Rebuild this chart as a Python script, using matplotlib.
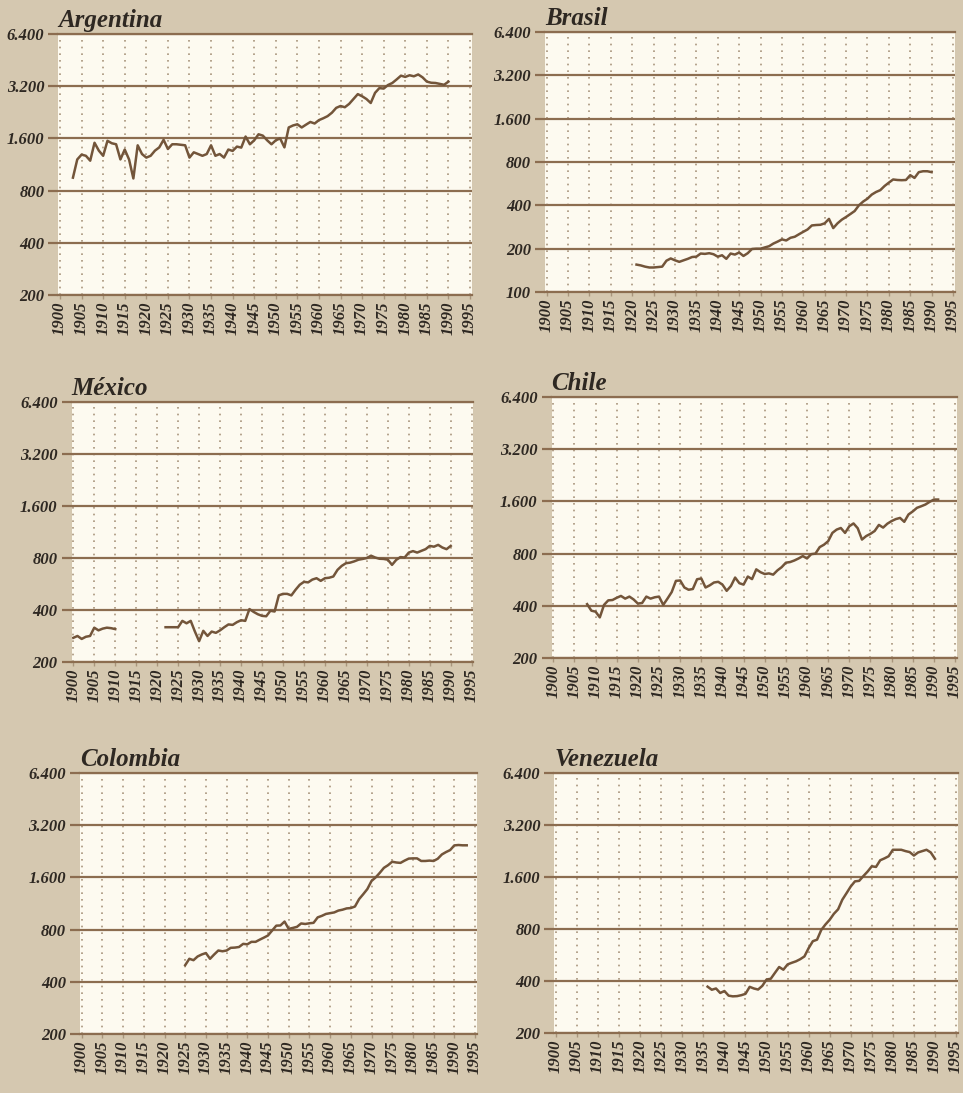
import numpy as np
import matplotlib.pyplot as plt
from matplotlib.ticker import FixedLocator, NullLocator

# ---- data (values per year) ----
arg_years = list(range(1903, 1991))
arg_values = [950, 1210, 1290, 1270, 1190, 1510, 1360, 1270, 1550, 1500,
              1480, 1210, 1380, 1210, 940, 1460, 1300, 1240, 1270, 1360,
              1420, 1570, 1390, 1480, 1480, 1470, 1460, 1240, 1330, 1300,
              1270, 1300, 1460, 1270, 1300, 1240, 1380, 1355, 1435, 1416,
              1640, 1480, 1560, 1690, 1660, 1560, 1480, 1560, 1600, 1420,
              1850, 1900, 1930, 1850, 1920, 1990, 1950, 2040, 2090, 2150,
              2250, 2400, 2460, 2420, 2530, 2700, 2880, 2800, 2700, 2560,
              2930, 3120, 3100, 3250, 3340, 3500, 3680, 3620, 3700, 3650,
              3740, 3600, 3400, 3350, 3340, 3300, 3260, 3400]

bra_years = list(range(1921, 1991))
bra_values = [155, 153, 150, 148, 148, 149, 150, 165, 171, 166,
              162, 166, 170, 175, 176, 185, 184, 186, 183, 176,
              180, 170, 185, 182, 188, 178, 186, 199, 200, 200,
              204, 208, 217, 224, 232, 228, 238, 242, 252, 262,
              272, 290, 292, 293, 300, 322, 278, 300, 318, 332,
              348, 365, 400, 425, 445, 475, 495, 510, 545, 575,
              605, 600, 598, 600, 648, 620, 680, 690, 690, 680]

mex_years = list(range(1900, 1991))
mex_values = [276, 283, 272, 280, 283, 316, 305, 312, 316, 314,
              310, None, None, None, None, None, None, None, None, None,
              None, None, 318, 318, 318, 318, 346, 335, 346, 300,
              264, 303, 283, 300, 295, 305, 318, 330, 328, 340,
              349, 346, 405, 390, 378, 370, 368, 396, 392, 486,
              496, 496, 486, 524, 560, 582, 578, 600, 611, 590,
              611, 615, 625, 683, 720, 746, 752, 765, 782, 790,
              800, 825, 805, 792, 790, 782, 730, 780, 810, 805,
              860, 877, 860, 880, 900, 940, 930, 953, 920, 900,
              940]

chi_years = list(range(1908, 1992))
chi_values = [409, 375, 370, 343, 405, 430, 432, 445, 456, 440,
              452, 435, 412, 415, 452, 440, 448, 452, 405, 440,
              480, 557, 560, 510, 495, 500, 569, 575, 510, 525,
              545, 550, 530, 488, 520, 582, 540, 530, 590, 570,
              649, 625, 610, 615, 605, 640, 668, 709, 715, 730,
              750, 774, 750, 794, 800, 872, 900, 943, 1053, 1100,
              1124, 1053, 1150, 1194, 1120, 964, 1010, 1040, 1080, 1171,
              1130, 1190, 1232, 1265, 1285, 1220, 1345, 1400, 1469, 1500,
              1535, 1590, 1640, 1640]

col_years = list(range(1925, 1994))
col_values = [499, 543, 533, 560, 575, 586, 543, 575, 606, 600,
              606, 628, 630, 635, 662, 658, 680, 680, 700, 719,
              740, 790, 843, 845, 890, 808, 818, 830, 868, 862,
              870, 875, 941, 960, 985, 995, 1005, 1030, 1042, 1060,
              1065, 1087, 1199, 1280, 1371, 1525, 1600, 1700, 1817, 1882,
              1970, 1950, 1940, 2000, 2054, 2060, 2060, 1990, 1990, 2000,
              1990, 2050, 2170, 2240, 2300, 2447, 2460, 2450, 2450]

ven_years = list(range(1936, 1991))
ven_values = [371, 356, 362, 341, 350, 329, 326, 327, 331, 337,
              370, 362, 357, 375, 408, 412, 446, 482, 465, 499,
              510, 520, 535, 555, 620, 680, 694, 790, 850, 905,
              980, 1040, 1182, 1290, 1410, 1510, 1520, 1620, 1720, 1845,
              1830, 2000, 2050, 2110, 2300, 2300, 2300, 2260, 2230, 2130,
              2220, 2260, 2300, 2220, 2040]

y_levels = [100, 200, 400, 800, 1600, 3200, 6400]
y_labels = ['100', '200', '400', '800', '1.600', '3.200', '6.400']
x_years = list(range(1900, 2000, 5))

# ---- style ----
W, H = 963, 1093
BG = '#d5c8b0'
CREAM = '#fdfaf0'
GRID = '#8c6d50'
DOTS = '#a8957c'
LINE = '#73553a'
TEXT = '#2e2822'
FONT = 'Liberation Serif'

fig = plt.figure(figsize=(W / 100, H / 100), dpi=100)
fig.patch.set_facecolor(BG)


def add_panel(name, years, values, ymin, box):
    # box = pixel x of 1900, pixel x of 1995, pixel y of top line, pixel y of bottom line
    x1900, x1995, ytop, ybot = box
    ppy = (x1995 - x1900) / 95
    left = x1900 - 0.4 * ppy
    right = x1995 + 0.4 * ppy
    ax = fig.add_axes([left / W, 1 - ybot / H, (right - left) / W, (ybot - ytop) / H])
    ax.set_facecolor(CREAM)

    vals = np.array([np.nan if v is None else v for v in values], dtype=float)
    ax.plot(years, vals, color=LINE, linewidth=1.8, zorder=3)

    ax.set_xlim(1899.6, 1995.4)
    ax.set_yscale('log', base=2)
    ax.set_ylim(ymin, 6400)

    levels = [v for v in y_levels if v >= ymin]
    labels = [l for v, l in zip(y_levels, y_labels) if v >= ymin]
    ax.yaxis.set_major_locator(FixedLocator(levels))
    ax.yaxis.set_minor_locator(NullLocator())
    ax.set_yticklabels(labels)
    ax.xaxis.set_major_locator(FixedLocator(x_years))
    ax.xaxis.set_minor_locator(NullLocator())
    ax.set_xticklabels([str(y) for y in x_years], rotation=90)

    ax.grid(axis='y', color=GRID, linewidth=1.6, linestyle='-', zorder=1)
    ax.grid(axis='x', color=DOTS, linewidth=1.2, linestyle=(0, (1, 3)), zorder=1)
    ax.set_axisbelow(True)

    for side in ['left', 'right']:
        ax.spines[side].set_visible(False)
    for side in ['top', 'bottom']:
        ax.spines[side].set_color(GRID)
        ax.spines[side].set_linewidth(1.6)

    ax.tick_params(axis='y', length=7, width=1.6, color=GRID, pad=3,
                   labelsize=12, labelcolor=TEXT)
    ax.tick_params(axis='x', length=3, width=1.0, color=DOTS, pad=2,
                   labelsize=12, labelcolor=TEXT)
    for lab in ax.get_xticklabels() + ax.get_yticklabels():
        lab.set_fontfamily(FONT)
        lab.set_fontstyle('italic')
        lab.set_fontweight('bold')

    ax.set_title(name, loc='left', pad=5, fontsize=18, fontfamily=FONT,
                 fontstyle='italic', fontweight='bold', color=TEXT)
    return ax


add_panel('Argentina', arg_years, arg_values, 200, (60, 470, 34, 295))
add_panel('Brasil', bra_years, bra_values, 100, (546.7, 953, 32, 292))
add_panel('México', mex_years, mex_values, 200, (73.3, 471.7, 402, 662))
add_panel('Chile', chi_years, chi_values, 200, (553.3, 955, 397, 658))
add_panel('Colombia', col_years, col_values, 200, (81.7, 475, 773, 1034))
add_panel('Venezuela', ven_years, ven_values, 200, (556, 956, 773, 1033))

plt.savefig('out.png', dpi=100, facecolor=BG)
plt.close()
